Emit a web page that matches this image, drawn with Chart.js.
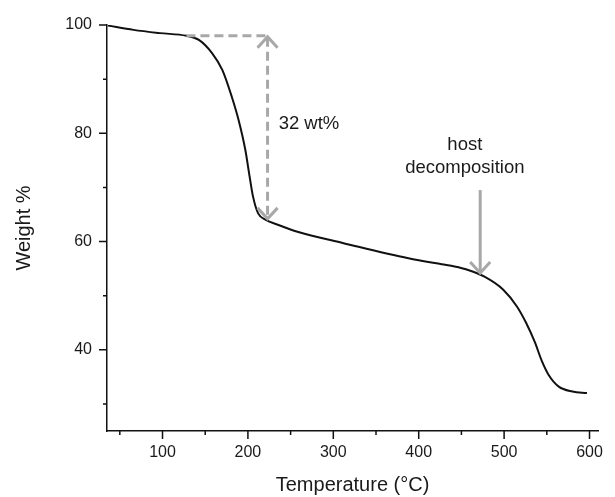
<!DOCTYPE html>
<html>
<head>
<meta charset="utf-8">
<script src="https://cdn.jsdelivr.net/npm/chart.js@4"></script>
<style>
    html, body { margin: 0; padding: 0; background: #fff; }
    #wrap { width: 615px; height: 497px; }
</style>
</head>
<body>
<div id="wrap"><canvas id="tga" width="615" height="497"></canvas></div>
<script>
// TGA curve (temperature in °C, weight in %)
const temps   = [36, 66, 97, 128, 143, 158, 170, 181, 189, 197, 202, 206, 212, 221, 235, 258, 312, 388, 427, 442, 457, 477, 499, 515, 526, 536, 544, 552, 564, 580, 597];
const weights = [99.9, 99.1, 98.5, 98.0, 97.2, 94.8, 91.7, 86.8, 82.5, 76.9, 72.0, 68.3, 65.2, 64.0, 63.1, 61.8, 59.7, 56.9, 55.8, 55.4, 54.8, 53.5, 51.1, 48.0, 44.9, 41.4, 38.0, 35.4, 33.2, 32.3, 32.0];

// axis ticks
const xTicks = [100, 200, 300, 400, 500, 600];
const xMinor = [50, 150, 250, 350, 450, 550];
const yTicks = [40, 60, 80, 100];
const yMinor = [30, 50, 70, 90];

// annotations: mass loss bracket [startT, arrowT, topW, bottomW], host arrow [T, fromW, toW]
const lossBracket = [128, 223, 98.0, 64.0];
const lossLabel = '32 wt%';
const lossLabelPos = [236, 81.7];
const hostArrow = [472, 69.5, 54.2];
const hostLabel = ['host', 'decomposition'];
const hostLabelPos = [454, 77.8, 73.6];

const FONT = '"Liberation Sans", Arial, sans-serif';
const GREY = '#a8a8a8';

// major / minor tick marks drawn on the library's scales
const axisMarks = {
    id: 'axisMarks',
    afterDraw(chart) {
        const { ctx, chartArea } = chart;
        const x = chart.scales.x, y = chart.scales.y;
        ctx.save();
        ctx.strokeStyle = '#111';
        ctx.lineWidth = 1.5;
        ctx.beginPath();
        xTicks.forEach(v => {
            const px = x.getPixelForValue(v);
            ctx.moveTo(px, chartArea.bottom);
            ctx.lineTo(px, chartArea.bottom + 8);
        });
        xMinor.forEach(v => {
            const px = x.getPixelForValue(v);
            ctx.moveTo(px, chartArea.bottom);
            ctx.lineTo(px, chartArea.bottom + 4);
        });
        yTicks.forEach(v => {
            const py = y.getPixelForValue(v);
            ctx.moveTo(chartArea.left, py);
            ctx.lineTo(chartArea.left - 8, py);
        });
        yMinor.forEach(v => {
            const py = y.getPixelForValue(v);
            ctx.moveTo(chartArea.left, py);
            ctx.lineTo(chartArea.left - 4, py);
        });
        ctx.stroke();
        ctx.restore();
    }
};

function chevron(ctx, px, py, dir) {
    // dir = 1 points down, -1 points up
    ctx.beginPath();
    ctx.moveTo(px - 10, py - dir * 11);
    ctx.lineTo(px, py);
    ctx.lineTo(px + 10, py - dir * 11);
    ctx.stroke();
}

const annotations = {
    id: 'annotations',
    afterDatasetsDraw(chart) {
        const { ctx } = chart;
        const x = chart.scales.x, y = chart.scales.y;
        ctx.save();
        ctx.strokeStyle = GREY;
        ctx.lineWidth = 3;

        // 32 wt% bracket
        const [t0, t1, wTop, wBot] = lossBracket;
        const ax = x.getPixelForValue(t1);
        const yTop = y.getPixelForValue(wTop);
        const yBot = y.getPixelForValue(wBot);
        ctx.setLineDash([9, 5]);
        ctx.beginPath();
        ctx.moveTo(x.getPixelForValue(t0), yTop);
        ctx.lineTo(ax, yTop);
        ctx.moveTo(ax, yTop + 2);
        ctx.lineTo(ax, yBot - 2);
        ctx.stroke();
        ctx.setLineDash([]);
        chevron(ctx, ax, yTop + 1, -1);
        chevron(ctx, ax, yBot - 1, 1);

        // host decomposition arrow
        const hx = x.getPixelForValue(hostArrow[0]);
        ctx.beginPath();
        ctx.moveTo(hx, y.getPixelForValue(hostArrow[1]));
        ctx.lineTo(hx, y.getPixelForValue(hostArrow[2]));
        ctx.stroke();
        chevron(ctx, hx, y.getPixelForValue(hostArrow[2]), 1);

        // labels
        ctx.fillStyle = '#1a1a1a';
        ctx.font = '18.5px ' + FONT;
        ctx.textBaseline = 'middle';
        ctx.textAlign = 'left';
        ctx.fillText(lossLabel, x.getPixelForValue(lossLabelPos[0]), y.getPixelForValue(lossLabelPos[1]));
        ctx.textAlign = 'center';
        const hlx = x.getPixelForValue(hostLabelPos[0]);
        ctx.fillText(hostLabel[0], hlx, y.getPixelForValue(hostLabelPos[1]));
        ctx.fillText(hostLabel[1], hlx, y.getPixelForValue(hostLabelPos[2]));
        ctx.restore();
    }
};

new Chart(document.getElementById('tga'), {
    type: 'line',
    data: {
        datasets: [{
            data: temps.map((t, i) => ({ x: t, y: weights[i] })),
            borderColor: '#111',
            borderWidth: 2,
            pointRadius: 0,
            cubicInterpolationMode: 'monotone',
            fill: false
        }]
    },
    options: {
        responsive: false,
        animation: false,
        layout: { padding: { top: 25, right: 8, left: 0, bottom: 0 } },
        plugins: {
            legend: { display: false },
            tooltip: { enabled: false }
        },
        scales: {
            x: {
                type: 'linear',
                min: 35,
                max: 610,
                afterBuildTicks: s => { s.ticks = xTicks.map(v => ({ value: v })); },
                afterFit: s => { s.height = 66; },
                grid: { display: false, drawTicks: false },
                border: { color: '#111', width: 1.5 },
                ticks: { padding: 12, color: '#1a1a1a', font: { family: FONT, size: 16 } },
                title: {
                    display: true,
                    text: 'Temperature (°C)',
                    color: '#1a1a1a',
                    font: { family: FONT, size: 20 },
                    padding: { top: 0, bottom: 0 }
                }
            },
            y: {
                min: 25,
                max: 100,
                afterBuildTicks: s => { s.ticks = yTicks.map(v => ({ value: v })); },
                afterFit: s => { s.width = 107; },
                grid: { display: false, drawTicks: false },
                border: { color: '#111', width: 1.5 },
                ticks: { padding: 15, color: '#1a1a1a', font: { family: FONT, size: 16 } },
                title: {
                    display: true,
                    text: 'Weight %',
                    color: '#1a1a1a',
                    font: { family: FONT, size: 20 },
                    padding: { top: 12, bottom: 0 }
                }
            }
        }
    },
    plugins: [axisMarks, annotations]
});
</script>
</body>
</html>
